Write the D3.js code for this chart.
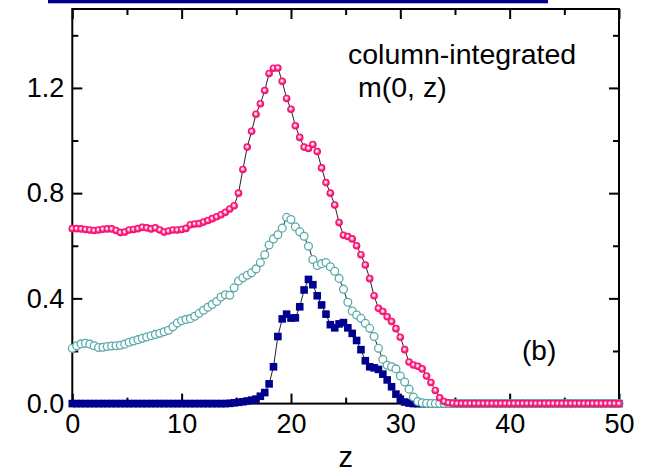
<!DOCTYPE html>
<html>
<head>
<meta charset="utf-8">
<script src="https://cdn.jsdelivr.net/npm/d3@7"></script>
<style>
  body { margin: 0; background: #fff; }
  svg text { font-family: "Liberation Sans", Arial, sans-serif; fill: #000; }
</style>
</head>
<body>
<svg id="s" width="647" height="472"></svg>
<script>
// z positions of the samples (one every 0.4)
var zGrid = [
  0,0.4,0.8,1.2,1.6,2,2.4,2.8,3.2,3.6,
  4,4.4,4.8,5.2,5.6,6,6.4,6.8,7.2,7.6,
  8,8.4,8.8,9.2,9.6,10,10.4,10.8,11.2,11.6,
  12,12.4,12.8,13.2,13.6,14,14.4,14.8,15.2,15.6,
  16,16.4,16.8,17.2,17.6,18,18.4,18.8,19.2,19.6,
  20,20.4,20.8,21.2,21.6,22,22.4,22.8,23.2,23.6,
  24,24.4,24.8,25.2,25.6,26,26.4,26.8,27.2,27.6,
  28,28.4,28.8,29.2,29.6,30,30.4,30.8,31.2,31.6,
  32,32.4,32.8,33.2,33.6,34,34.4,34.8,35.2,35.6,
  36,36.4,36.8,37.2,37.6,38,38.4,38.8,39.2,39.6,
  40,40.4,40.8,41.2,41.6,42,42.4,42.8,43.2,43.6,
  44,44.4,44.8,45.2,45.6,46,46.4,46.8,47.2,47.6,
  48,48.4,48.8,49.2,49.6,50
];

// pink spheres
var pinkValues = [
  0.665,0.665,0.664,0.662,0.660,0.658,0.660,0.663,0.664,0.664,
  0.658,0.650,0.652,0.660,0.662,0.665,0.670,0.668,0.664,0.668,
  0.660,0.652,0.656,0.660,0.660,0.662,0.666,0.680,0.683,0.684,
  0.690,0.696,0.703,0.710,0.718,0.727,0.740,0.752,0.800,0.890,
  0.975,1.035,1.100,1.140,1.190,1.255,1.275,1.276,1.225,1.160,
  1.119,1.056,1.012,0.975,0.970,0.985,0.958,0.896,0.840,0.800,
  0.755,0.688,0.640,0.635,0.626,0.600,0.566,0.527,0.475,0.410,
  0.362,0.350,0.330,0.312,0.285,0.252,0.205,0.158,0.147,0.142,
  0.132,0.105,0.080,0.050,0.022,0.008,0.003,0.001,0,0,
  0,0,0,0,0,0,0,0,0,0,
  0,0,0,0,0,0,0,0,0,0,
  0,0,0,0,0,0,0,0,0,0,
  0,0,0,0,0,0
];

// open teal circles
var cyanValues = [
  0.210,0.220,0.227,0.229,0.226,0.220,0.213,0.214,0.217,0.219,
  0.220,0.222,0.226,0.233,0.238,0.243,0.248,0.253,0.258,0.263,
  0.267,0.273,0.279,0.292,0.306,0.315,0.320,0.323,0.332,0.343,
  0.355,0.366,0.377,0.388,0.405,0.414,0.412,0.440,0.466,0.478,
  0.488,0.497,0.512,0.536,0.566,0.603,0.626,0.642,0.667,0.708,
  0.700,0.672,0.653,0.636,0.598,0.548,0.525,0.532,0.536,0.520,
  0.503,0.476,0.435,0.385,0.352,0.337,0.324,0.305,0.286,0.255,
  0.210,0.168,0.146,0.140,0.132,0.105,0.082,0.055,0.025,0.008,
  0.003,0.001,0,0,0,0,0,0,0,0,
  0,0,0,0,0,0,0,0,0,0,
  0,0,0,0,0,0,0,0,0,0,
  0,0,0,0,0,0,0,0,0,0,
  0,0,0,0,0,0
];

// navy squares
var blueValues = [
  0,0,0,0,0,0,0,0,0,0,
  0,0,0,0,0,0,0,0,0,0,
  0,0,0,0,0,0,0,0,0,0,
  0,0,0,0,0,0,0.001,0.003,0.005,0.007,
  0.010,0.013,0.017,0.028,0.042,0.075,0.140,0.255,0.322,0.340,
  0.325,0.326,0.368,0.432,0.472,0.452,0.410,0.375,0.340,0.300,
  0.288,0.303,0.308,0.288,0.267,0.240,0.205,0.163,0.140,0.136,
  0.130,0.112,0.090,0.064,0.036,0.017,0.006,0.002,0,0,
  0,0,0,0,0,0,0,0,0,0,
  0,0,0,0,0,0,0,0,0,0,
  0,0,0,0,0,0,0,0,0,0,
  0,0,0,0,0,0,0,0,0,0,
  0,0,0,0,0,0
];

var xMajor = [0, 10, 20, 30, 40, 50];
var xMinor = [5, 15, 25, 35, 45];
var yMajor = [0, 0.4, 0.8, 1.2];
var yMinor = [0.2, 0.6, 1.0, 1.4];

var fontFam = '"Liberation Sans", Arial, sans-serif';
var pl = 72.3, pr = 619, pt = 9, pb = 403.6;

var svg = d3.select('#s');
svg.append('rect').attr('width', 647).attr('height', 472).attr('fill', '#fff');

// the navy strip at the very top of the picture
svg.append('rect').attr('x', 48).attr('y', 0).attr('width', 500).attr('height', 3.3).attr('fill', '#00008b');

var x = d3.scaleLinear().domain([0, 50]).range([pl, pr]);
var y = d3.scaleLinear().domain([0, 1.5]).range([pb, pt]);

// sphere look for the pink markers
var grad = svg.append('defs').append('radialGradient')
  .attr('id', 'pinkball').attr('cx', '50%').attr('cy', '50%').attr('r', '55%')
  .attr('fx', '45%').attr('fy', '42%');
grad.append('stop').attr('offset', '0%').attr('stop-color', '#ffffff');
grad.append('stop').attr('offset', '28%').attr('stop-color', '#ffc2dc');
grad.append('stop').attr('offset', '55%').attr('stop-color', '#ff2382');
grad.append('stop').attr('offset', '100%').attr('stop-color', '#f00064');

function drawAxis(axis, tx, ty) {
  var g = svg.append('g')
    .attr('transform', 'translate(' + tx + ',' + ty + ')')
    .call(axis)
    .attr('font-size', 27)
    .attr('font-family', fontFam);
  g.select('.domain').remove();
  g.selectAll('line').attr('stroke', '#000').attr('stroke-width', 2);
  g.selectAll('text').attr('fill', '#000');
  return g;
}

drawAxis(d3.axisBottom(x).tickValues(xMajor).tickSize(-10).tickPadding(10).tickFormat(d3.format('d')), 0, pb);
drawAxis(d3.axisBottom(x).tickValues(xMinor).tickSize(-6).tickFormat(''), 0, pb);
drawAxis(d3.axisTop(x).tickValues(xMajor).tickSize(-10).tickFormat(''), 0, pt);
drawAxis(d3.axisTop(x).tickValues(xMinor).tickSize(-6).tickFormat(''), 0, pt);
drawAxis(d3.axisLeft(y).tickValues(yMajor).tickSize(-10).tickPadding(8).tickFormat(d3.format('.1f')), pl, 0);
drawAxis(d3.axisLeft(y).tickValues(yMinor).tickSize(-6).tickFormat(''), pl, 0);
drawAxis(d3.axisRight(y).tickValues(yMajor).tickSize(-10).tickFormat(''), pr, 0);
drawAxis(d3.axisRight(y).tickValues(yMinor).tickSize(-6).tickFormat(''), pr, 0);

svg.append('rect')
  .attr('x', pl).attr('y', pt).attr('width', pr - pl).attr('height', pb - pt)
  .attr('fill', 'none').attr('stroke', '#000').attr('stroke-width', 2);

function pts(vals) {
  return zGrid.map(function (z, i) { return { z: z, v: vals[i] }; });
}

var line = d3.line()
  .x(function (d) { return x(d.z); })
  .y(function (d) { return y(d.v); });

function drawLine(data) {
  svg.append('path').datum(data).attr('d', line)
    .attr('fill', 'none').attr('stroke', '#222').attr('stroke-width', 1);
}

// navy squares first, they sit under the others along zero
var blue = pts(blueValues);
drawLine(blue);
svg.append('g').selectAll('rect').data(blue).enter().append('rect')
  .attr('x', function (d) { return x(d.z) - 3.8; })
  .attr('y', function (d) { return y(d.v) - 3.8; })
  .attr('width', 7.6).attr('height', 7.6)
  .attr('fill', '#00008f');

var cyan = pts(cyanValues);
drawLine(cyan);
svg.append('g').selectAll('circle').data(cyan).enter().append('circle')
  .attr('cx', function (d) { return x(d.z); })
  .attr('cy', function (d) { return y(d.v); })
  .attr('r', 3.9)
  .attr('fill', '#fff').attr('stroke', '#5aaaa8').attr('stroke-width', 1.3);

var pink = pts(pinkValues);
drawLine(pink);
svg.append('g').selectAll('circle').data(pink).enter().append('circle')
  .attr('cx', function (d) { return x(d.z); })
  .attr('cy', function (d) { return y(d.v); })
  .attr('r', 3.8)
  .attr('fill', 'url(#pinkball)');

// texts
svg.append('text').attr('x', 348).attr('y', 64).attr('font-size', 28.5).text('column-integrated');
svg.append('text').attr('x', 358).attr('y', 97).attr('font-size', 28.5).text('m(0, z)');
svg.append('text').attr('x', 522).attr('y', 360).attr('font-size', 28).text('(b)');
svg.append('text').attr('x', (pl + pr) / 2).attr('y', 467).attr('font-size', 29)
  .attr('text-anchor', 'middle').text('z');
</script>
</body>
</html>
